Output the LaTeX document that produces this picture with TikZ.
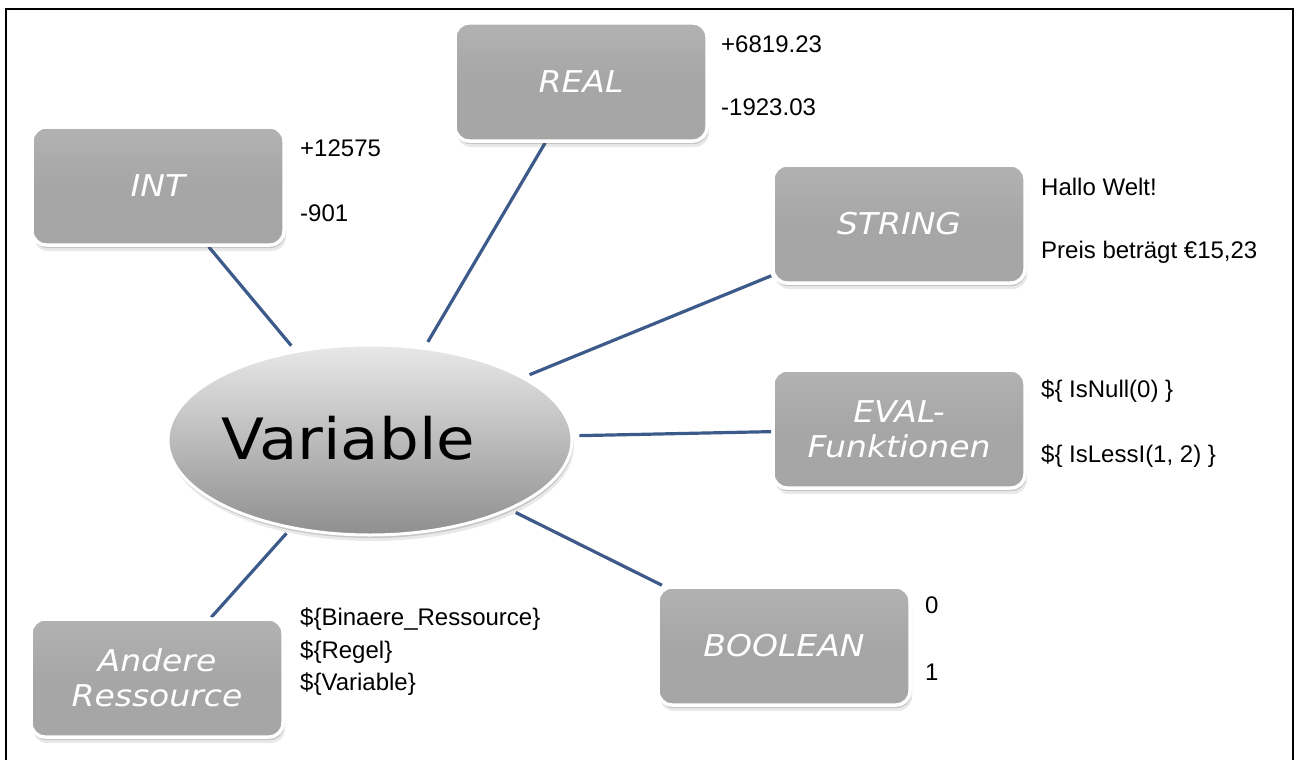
\documentclass[tikz,border=0pt]{standalone}
\usepackage{fontspec}
\usetikzlibrary{shapes.geometric,shadows}
\newfontfamily\boxfont[FakeStretch=1.1]{DejaVu Sans}
\newfontfamily\valfont{Liberation Sans}
\definecolor{boxgray}{HTML}{A6A6A6}
\definecolor{boxtop}{HTML}{B2B2B2}
\definecolor{linkblue}{HTML}{3C5A8A}
\pgfdeclarelayer{background}
\pgfsetlayers{background,main}
\tikzset{
  softshadow/.style={
    drop shadow={shadow xshift=1pt, shadow yshift=-3pt, opacity=0.22, fill=black!70},
    drop shadow={shadow xshift=2pt, shadow yshift=-6pt, opacity=0.12, fill=black!70}},
  typebox/.style={rectangle, rounded corners=14pt, top color=boxtop, bottom color=boxgray,
    middle color=boxgray, draw=white, line width=3.5pt,
    minimum width=252pt, minimum height=118pt, inner sep=2pt,
    font=\boxfont\itshape\fontsize{30}{35}\selectfont, text=white, align=center, softshadow},
  centernode/.style={ellipse, minimum width=404pt, minimum height=190pt, inner sep=0pt,
    top color=black!9, bottom color=black!44, draw=white, line width=3pt, softshadow},
  centertext/.style={font=\boxfont\fontsize{57}{64}\selectfont, text=black, inner sep=0pt},
  valtext/.style={anchor=west, font=\valfont\fontsize{24}{32.5}\selectfont, inner sep=0pt, text=black, align=left},
  link/.style={draw=linkblue, line width=3.2pt, shorten <=6pt}
}
\begin{document}
\begin{tikzpicture}[x=1pt,y=-1pt]
\useasboundingbox (0,0) rectangle (1295,760);

\node[centernode] (var) at (370,440) {};
\node[centertext] (varlabel) at (348,438) {Variable};

\node[typebox] (int) at (158,186) {INT};
\node[typebox] (real) at (581,82) {REAL};
\node[typebox] (str) at (899,224) {STRING};
\node[typebox] (eval) at (899,429) {EVAL-\\Funktionen};
\node[typebox] (bool) at (784,646) {BOOLEAN};
\node[typebox] (other) at (157,678) {Andere\\Ressource};

\node[valtext] (int1) at (300,148) {+12575};
\node[valtext] (int2) at (300,213) {-901};
\node[valtext] (real1) at (721,44) {+6819.23};
\node[valtext] (real2) at (721,107) {-1923.03};
\node[valtext] (str1) at (1041,187) {Hallo Welt!};
\node[valtext] (str2) at (1041,252) {Preis beträgt €15,23};
\node[valtext] (eval1) at (1041,391) {\$\{ IsNull(0) \}};
\node[valtext] (eval2) at (1041,456) {\$\{ IsLessI(1, 2) \}};
\node[valtext] (bool1) at (925,605) {0};
\node[valtext] (bool2) at (925,672) {1};
\node[valtext] (oth) at (300,652) {\$\{Binaere\_Ressource\}\\\$\{Regel\}\\\$\{Variable\}};

\begin{pgfonlayer}{background}
\fill[white] (0,0) rectangle (1295,760);
\draw[link] (var) -- (int);
\draw[link] (var) -- (real);
\draw[link] (var) -- (str);
\draw[link] (var) -- (eval);
\draw[link] (var) -- (bool);
\draw[link] (var) -- (other);
\end{pgfonlayer}
\draw[line width=2pt] (6,760) -- (6,9) -- (1293,9) -- (1293,760);
\end{tikzpicture}
\end{document}
